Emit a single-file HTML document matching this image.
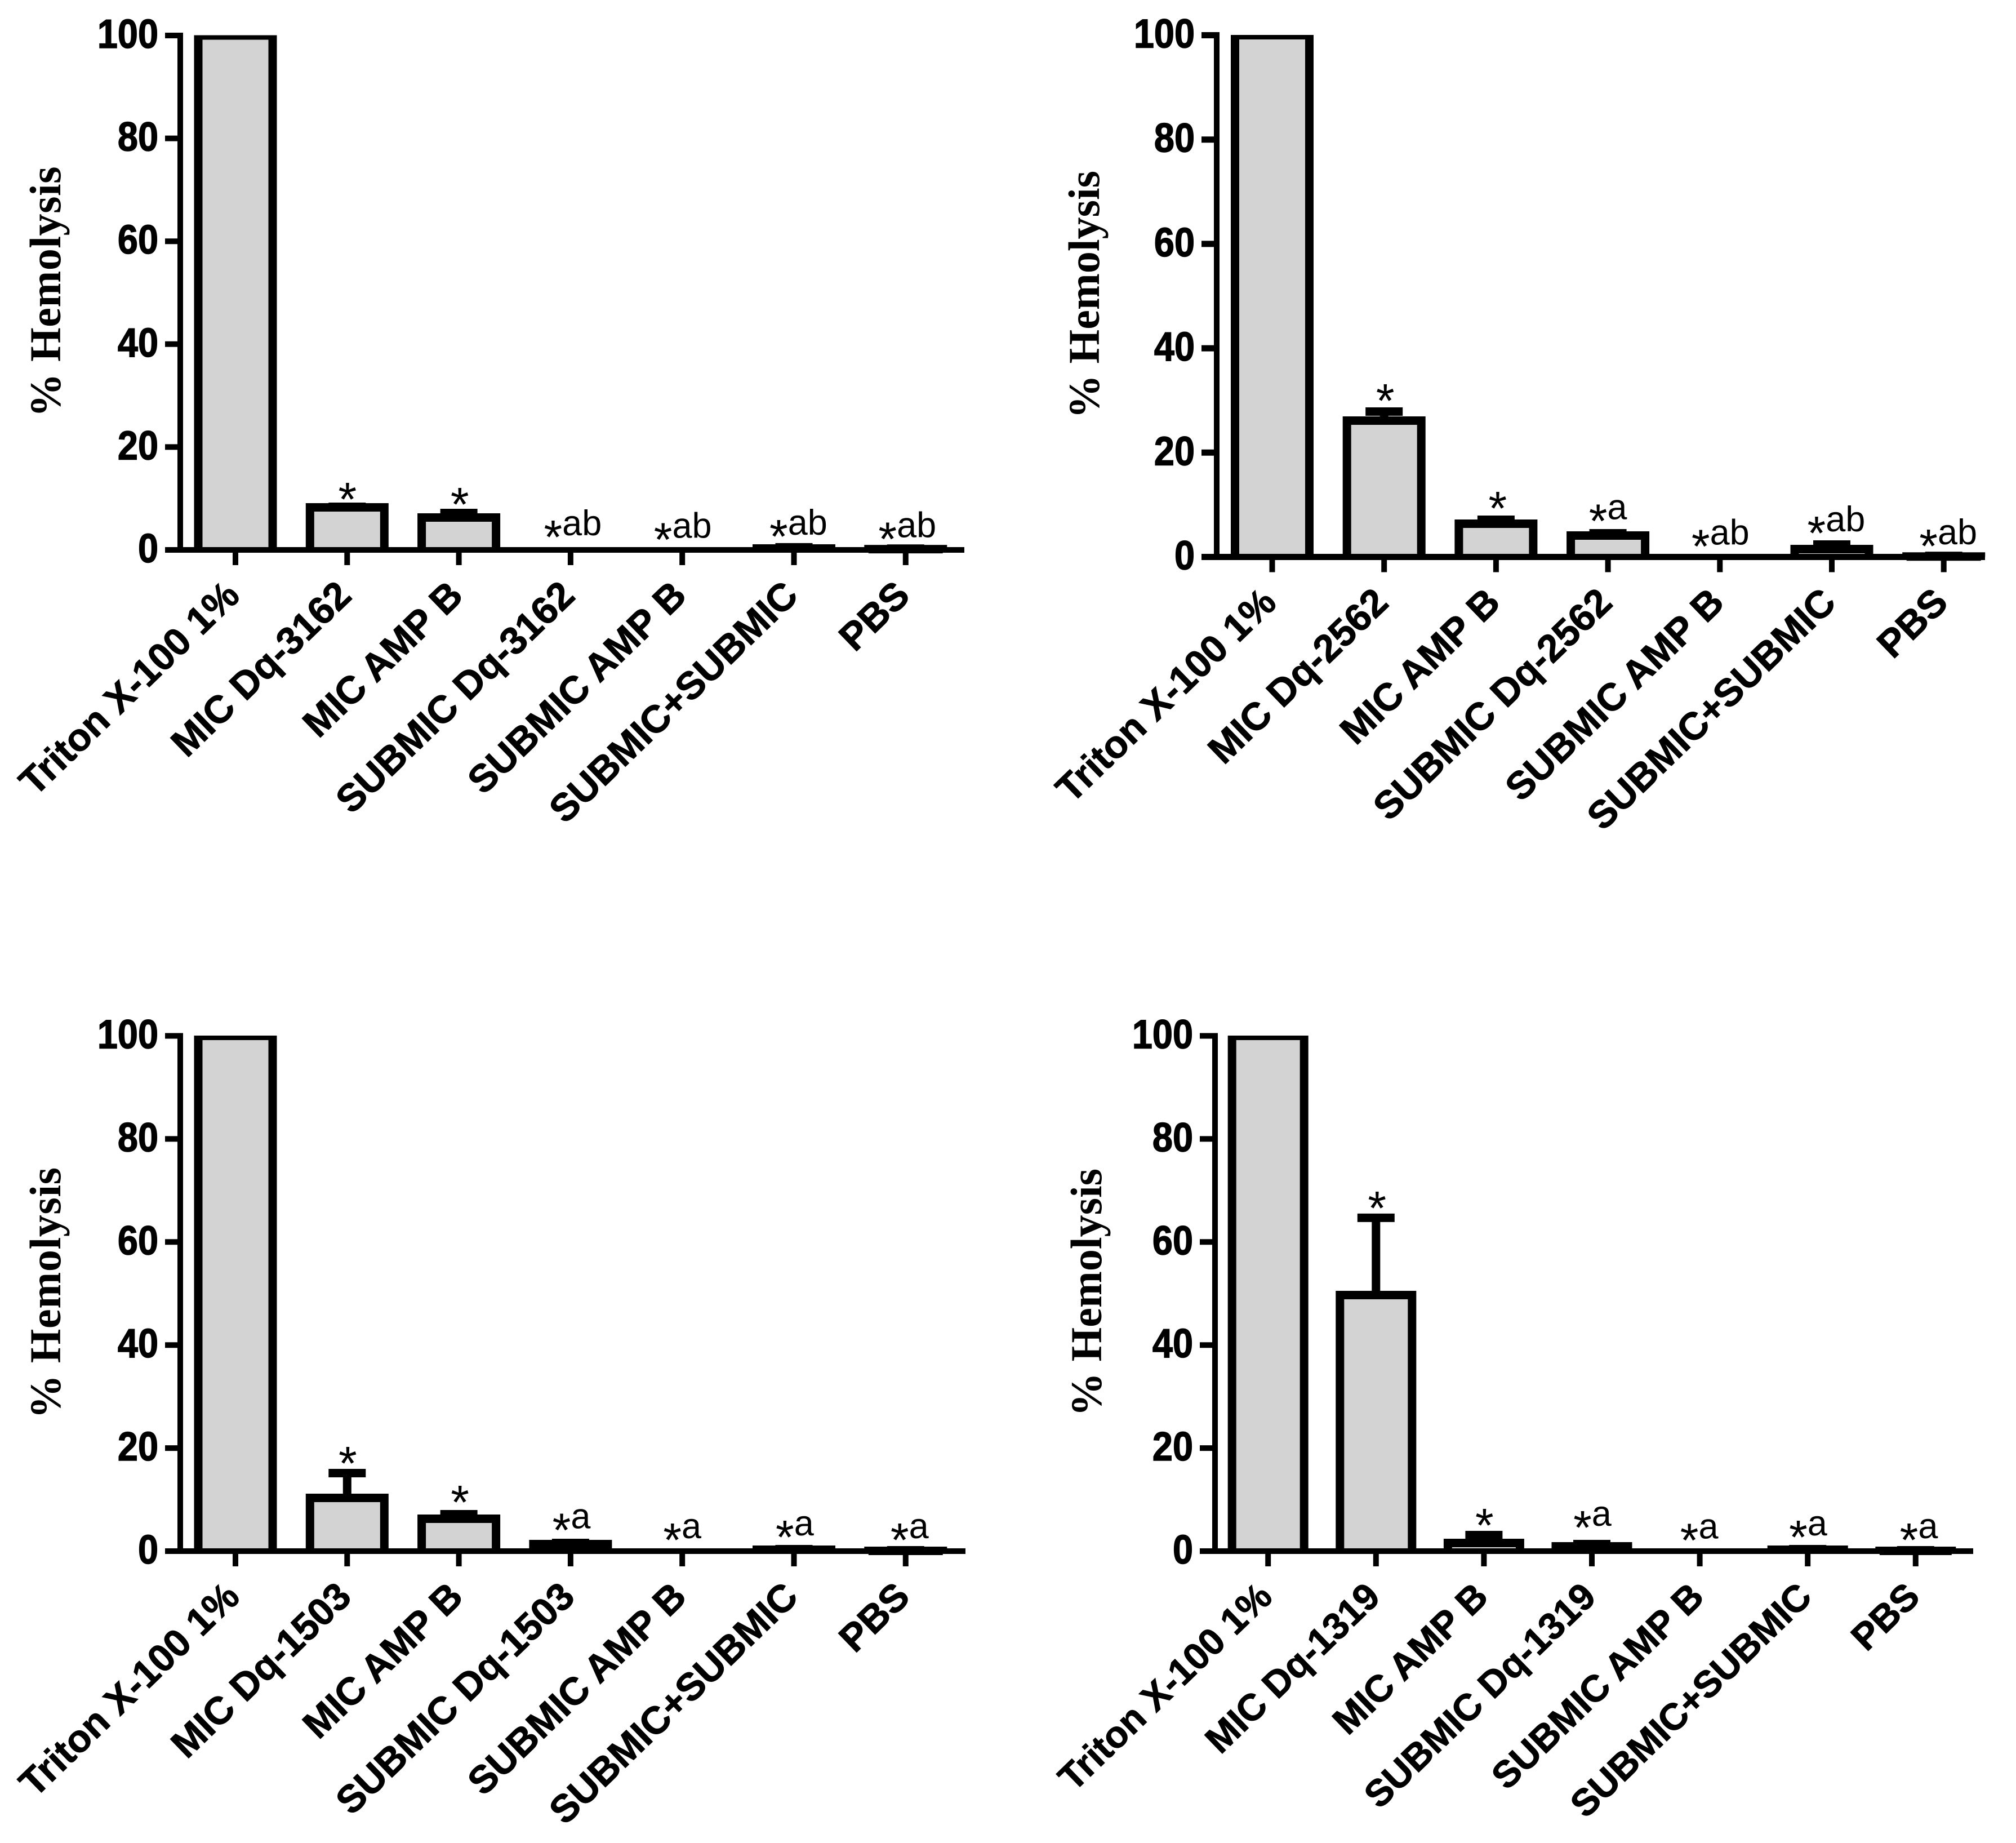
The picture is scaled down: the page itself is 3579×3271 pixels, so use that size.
<!DOCTYPE html>
<html lang="en">
<head>
<meta charset="utf-8">
<title>% Hemolysis bar charts</title>
<style>
html,body{margin:0;padding:0;background:#fff;}
svg{display:block;}
text{fill:#000;}
</style>
</head>
<body>
<svg id="figure" xmlns="http://www.w3.org/2000/svg" width="3579" height="3271" viewBox="0 0 3579 3271">
<rect x="0" y="0" width="3579" height="3271" fill="#ffffff"/>
</svg>
<script>
// ---- chart data (all values in % hemolysis) ----
const yTickValues = [0, 20, 40, 60, 80, 100];
const axisTitle = '% Hemolysis';

const categoriesA = ['Triton X-100 1%', 'MIC Dq-3162', 'MIC AMP B', 'SUBMIC Dq-3162', 'SUBMIC AMP B', 'SUBMIC+SUBMIC', 'PBS'];
const valuesA = [100, 8.27, 6.3, 0, 0, 0.27, 0.15];
const errorTopsA = [100, 8.38, 7.17, 0, 0, 0.5, 0.25];
const marksA = ['', '*', '*', '*ab', '*ab', '*ab', '*ab'];
const markLiftA = [0, 1.81, 2.03, 2.85, 2.34, 2.46, 2.19];
const markShiftA = [0, 0.003, 0.008, 0.02, 0.005, 0.04, 0.015];

const categoriesB = ['Triton X-100 1%', 'MIC Dq-2562', 'MIC AMP B', 'SUBMIC Dq-2562', 'SUBMIC AMP B', 'SUBMIC+SUBMIC', 'PBS'];
const valuesB = [100, 26.13, 6.37, 4.1, 0, 1.51, 0.08];
const errorTopsB = [100, 27.86, 7.13, 4.54, 0, 2.38, 0.2];
const marksB = ['', '*', '*', '*a', '*ab', '*ab', '*ab'];
const markLiftB = [0, 2.43, 2.54, 2.67, 2.35, 2.53, 2.23];
const markShiftB = [0, 0.01, 0.015, 0, 0.005, 0.04, 0.04];

const categoriesC = ['Triton X-100 1%', 'MIC Dq-1503', 'MIC AMP B', 'SUBMIC Dq-1503', 'SUBMIC AMP B', 'SUBMIC+SUBMIC', 'PBS'];
const valuesC = [100, 10.33, 6.29, 1.37, 0, 0.27, 0.05];
const errorTopsC = [100, 15.14, 7.16, 1.59, 0, 0.38, 0.16];
const marksC = ['', '*', '*', '*a', '*a', '*a', '*a'];
const markLiftC = [0, 2.25, 2.68, 2.82, 2.51, 2.68, 2.35];
const markShiftC = [0, 0.005, 0.01, 0.008, 0, 0.007, 0.035];

const categoriesD = ['Triton X-100 1%', 'MIC Dq-1319', 'MIC AMP B', 'SUBMIC Dq-1319', 'SUBMIC AMP B', 'SUBMIC+SUBMIC', 'PBS'];
const valuesD = [100, 49.7, 1.59, 0.93, 0, 0.27, 0.05];
const errorTopsD = [100, 64.7, 3.12, 1.37, 0, 0.38, 0.16];
const marksD = ['', '*', '*', '*a', '*a', '*a', '*a'];
const markLiftD = [0, 2.2, 2.24, 3.55, 2.44, 2.68, 2.35];
const markShiftD = [0, 0.01, 0.005, 0.005, -0.005, 0.004, 0.03];

// ---- drawing ----
const SVG_NS = 'http://www.w3.org/2000/svg';
const figure = document.getElementById('figure');
const SANS = '"Liberation Sans", Arial, sans-serif';
const SERIF = '"Liberation Serif", "Times New Roman", serif';

function make(tag, parent, attrs) {
  const node = document.createElementNS(SVG_NS, tag);
  for (const key in attrs) node.setAttribute(key, attrs[key]);
  parent.appendChild(node);
  return node;
}

function drawPanel(id, layout, categories, values, errorTops, marks, markLift, markShift) {
  const yScale = v => layout.y0 + (layout.y100 - layout.y0) * v / 100;
  const xScale = i => layout.x0 + layout.dx * i;
  const lw = layout.lw;

  const panel = make('g', figure, {});
  
  

  const clip = make('clipPath', panel, { id: 'clip-' + id });
  make('rect', clip, { x: 0, y: yScale(100) - 0.5, width: 3579, height: 3271 });

  const barsLayer = make('g', panel, { 'clip-path': 'url(#clip-' + id + ')' });
  
  

  values.forEach((v, i) => {
    const cx = xScale(i);
    const half = layout.barW / 2 - 7.5;
    const top = yScale(v);
    const errTop = errorTops[i];

    if (errTop > v) {
      const stem = make('line', barsLayer, { x1: cx, x2: cx, y1: top, y2: yScale(errTop), stroke: '#000', 'stroke-width': 15 });
      
      
      const cap = make('line', barsLayer, { x1: cx - 33, x2: cx + 33, y1: yScale(errTop), y2: yScale(errTop), stroke: '#000', 'stroke-width': 15 });
      
      
    }

    if (v > 0) {
      const fill = make('rect', barsLayer, { x: cx - half, y: top, width: half * 2, height: layout.y0 - top, fill: '#d3d3d3' });
      
      
      const outline = make('path', barsLayer, {
        d: 'M' + (cx - half) + ' ' + layout.y0 + ' V' + top + ' H' + (cx + half) + ' V' + layout.y0,
        fill: 'none', stroke: '#000', 'stroke-width': 15, 'stroke-linejoin': 'miter', 'stroke-miterlimit': 10
      });
      
      
    }

    if (marks[i]) {
      const base = yScale(Math.max(errTop, v) + markLift[i]);
      const label = make('text', panel, {
        x: cx + markShift[i] * layout.dx, y: base,
        'text-anchor': 'middle', 'font-family': SANS
      });
      
      
      const star = make('tspan', label, { 'font-size': 84, dy: 32 });
      star.textContent = marks[i].charAt(0);
      const rest = marks[i].slice(1);
      if (rest) {
        const letters = make('tspan', label, { 'font-size': 63, dy: -32 });
        letters.textContent = rest;
      }
    }
  });

  // y axis
  const yAxis = make('line', panel, {
    x1: layout.axisX, x2: layout.axisX, y1: yScale(100) - lw / 2, y2: layout.y0,
    stroke: '#000', 'stroke-width': 10
  });
  
  

  yTickValues.forEach(t => {
    const y = yScale(t);
    const tick = make('line', panel, { x1: layout.left, x2: layout.axisX, y1: y, y2: y, stroke: '#000', 'stroke-width': lw });
    
    
    const lab = make('text', panel, {
      transform: 'translate(' + (layout.left - 12) + ' ' + (y + 22) + ') scale(0.9 1)',
      'text-anchor': 'end', 'font-family': SANS, 'font-weight': 700, 'font-size': 72,
      stroke: '#000', 'stroke-width': 1.5
    });
    
    
    lab.textContent = String(t);
  });

  // x axis
  const xAxis = make('line', panel, { x1: layout.left, x2: layout.xEnd, y1: layout.y0, y2: layout.y0, stroke: '#000', 'stroke-width': lw });
  
  

  categories.forEach((name, i) => {
    const x = xScale(i);
    const tick = make('line', panel, { x1: x, x2: x, y1: layout.y0, y2: layout.y0 + 27, stroke: '#000', 'stroke-width': 10 });
    
    
    const lab = make('text', panel, {
      transform: 'translate(' + (x + 11) + ' ' + (layout.y0 + 85) + ') rotate(-44)',
      'text-anchor': 'end', 'font-family': SANS, 'font-weight': 700, 'font-size': layout.labelSize,
      stroke: '#000', 'stroke-width': 1
    });
    
    
    lab.textContent = name;
  });

  // y axis title
  const title = make('text', panel, {
    transform: 'translate(' + layout.titleX + ' ' + layout.titleY + ') rotate(-90)',
    'text-anchor': 'middle', 'font-family': SERIF, 'font-weight': 700, 'font-size': 78,
    textLength: layout.titleLen, lengthAdjust: 'spacing'
  });
  
  
  title.textContent = axisTitle;
}

drawPanel('a', { y0: 976, y100: 63, x0: 418, dx: 198.3, barW: 147, axisX: 320, xEnd: 1712, left: 293, lw: 10, labelSize: 68.5, titleX: 107, titleY: 518, titleLen: 445 },
  categoriesA, valuesA, errorTopsA, marksA, markLiftA, markShiftA);
drawPanel('b', { y0: 988.5, y100: 62.5, x0: 2258.5, dx: 198.7, barW: 147, axisX: 2160, xEnd: 3524, left: 2133, lw: 11, labelSize: 68.5, titleX: 1951, titleY: 523, titleLen: 440 },
  categoriesB, valuesB, errorTopsB, marksB, markLiftB, markShiftB);
drawPanel('c', { y0: 2753, y100: 1838.5, x0: 418, dx: 198.3, barW: 147, axisX: 320, xEnd: 1714, left: 293, lw: 10, labelSize: 68.5, titleX: 107, titleY: 2295, titleLen: 446 },
  categoriesC, valuesC, errorTopsC, marksC, markLiftC, markShiftC);
drawPanel('d', { y0: 2753, y100: 1838.5, x0: 2251.2, dx: 191.6, barW: 143, axisX: 2157, xEnd: 3503, left: 2130, lw: 10, labelSize: 66.5, titleX: 1955, titleY: 2294, titleLen: 440 },
  categoriesD, valuesD, errorTopsD, marksD, markLiftD, markShiftD);
</script>
</body>
</html>
